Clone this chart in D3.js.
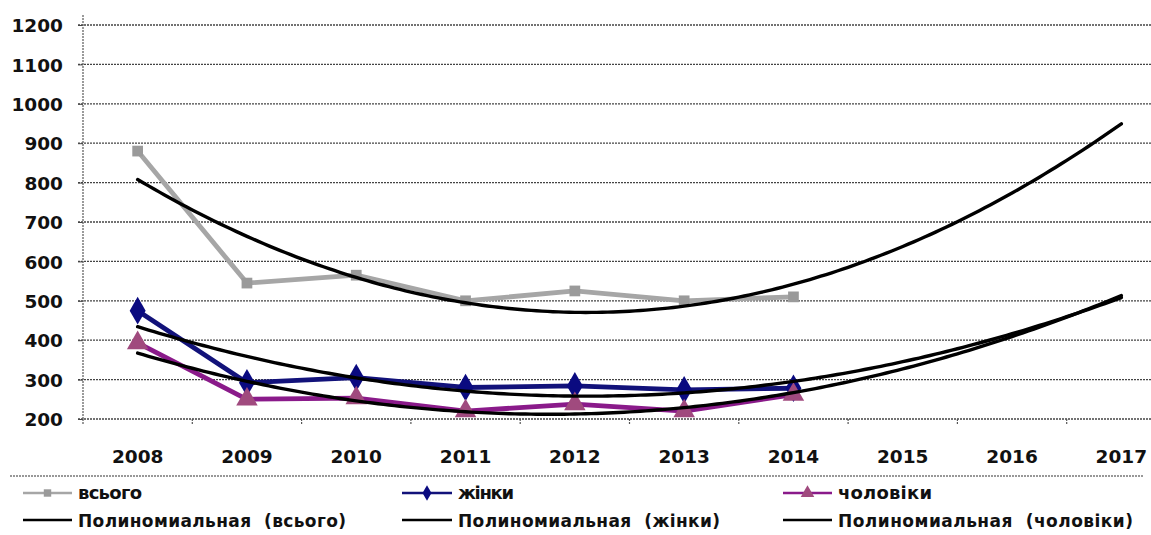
<!DOCTYPE html>
<html><head><meta charset="utf-8">
<script src="https://cdn.jsdelivr.net/npm/d3@7"></script>
<style>
html,body{margin:0;padding:0;background:#fff;}
svg{display:block;}
text{font-family:"DejaVu Sans",Arial,sans-serif;fill:#111;}
</style></head>
<body>
<svg id="c" width="1151" height="535"></svg>
<script>
const years = ["2008","2009","2010","2011","2012","2013","2014","2015","2016","2017"];
const dataYears = ["2008","2009","2010","2011","2012","2013","2014"];
const vsogo   = [880, 545, 565, 500, 525, 500, 510];
const zhinky  = [475, 292, 305, 280, 284, 274, 278];
const choloviky = [393, 250, 253, 220, 238, 220, 262];
const yTicks = [200,300,400,500,600,700,800,900,1000,1100,1200];
const seriesNames = ["всього","жінки","чоловіки"];
const trendNames = ["Полиномиальная  (всього)","Полиномиальная  (жінки)","Полиномиальная  (чоловіки)"];

const svg = d3.select("#c");
const x = d3.scaleBand().domain(years).range([83, 1176]).padding(0);
const bw = x.bandwidth();
const cx = d => x(d) + bw/2;
const y = d3.scaleLinear().domain([200,1200]).range([419,25]);

// gridlines
svg.append("g").selectAll("line").data(yTicks).join("line")
  .attr("x1",78).attr("x2",1151).attr("y1",d=>y(d)).attr("y2",d=>y(d))
  .attr("stroke","#444").attr("stroke-width",1.3).attr("stroke-dasharray","2 1");

// y axis
const yAxis = d3.axisLeft(y).tickValues(yTicks).tickFormat(d3.format("d")).tickSize(5).tickPadding(15);
const gy = svg.append("g").attr("transform","translate(83,0)").call(yAxis);
gy.select(".domain").remove();
gy.append("line").attr("x1",0).attr("x2",0).attr("y1",15).attr("y2",419)
  .attr("stroke","#666").attr("stroke-width",1.3).attr("stroke-dasharray","2 1");
gy.selectAll(".tick line").attr("stroke","#444");
gy.selectAll("text").attr("font-size","18.5px").attr("font-weight","bold")
  .attr("font-family","DejaVu Sans").attr("fill","#111").attr("dy","0.36em");

// x axis
const xAxis = d3.axisBottom(x).tickSize(0).tickPadding(0);
const gx = svg.append("g").attr("transform","translate(0,419)").call(xAxis);
gx.select(".domain").remove();
gx.selectAll("text").attr("font-size","18.5px").attr("font-weight","bold")
  .attr("font-family","DejaVu Sans").attr("fill","#111").attr("y",44).attr("dy",0);
svg.append("g").selectAll("line").data(years).join("line")
  .attr("x1",d=>x(d)).attr("x2",d=>x(d)).attr("y1",419).attr("y2",425)
  .attr("stroke","#555").attr("stroke-width",1.2).attr("stroke-dasharray","2 1");

// series
const line = d3.line().x((d,i)=>cx(dataYears[i])).y(d=>y(d));
const series = [
  {vals:vsogo, color:"#a6a6a6", mcolor:"#9a9a9a", marker:"square"},
  {vals:zhinky, color:"#12127a", mcolor:"#0a0a80", marker:"diamond"},
  {vals:choloviky, color:"#8a1a8a", mcolor:"#a04a7e", marker:"triangle"}
];
const symType = {square:d3.symbolSquare, diamond:d3.symbolDiamond, triangle:d3.symbolTriangle};
const symSize = {square:115, diamond:220, triangle:200};

series.forEach(s=>{
  svg.append("path").datum(s.vals).attr("d",line).attr("fill","none")
    .attr("stroke",s.color).attr("stroke-width",4.8).attr("stroke-linejoin","round");
});
series.forEach(s=>{
  svg.append("g").selectAll("path").data(s.vals).join("path")
    .attr("transform",(d,i)=>`translate(${cx(dataYears[i])},${y(d)})`)
    .attr("d",d3.symbol().type(symType[s.marker]).size(symSize[s.marker]))
    .attr("fill",s.mcolor);
});

// quadratic least-squares trend (the chart's polynomial trendlines), forecast to 2017
function quadFit(vals){
  const xs=vals.map((v,i)=>i);
  let S=[0,0,0,0,0], T=[0,0,0];
  xs.forEach((xv,i)=>{for(let k=0;k<5;k++)S[k]+=Math.pow(xv,k);for(let k=0;k<3;k++)T[k]+=Math.pow(xv,k)*vals[i];});
  const A=[[S[0],S[1],S[2]],[S[1],S[2],S[3]],[S[2],S[3],S[4]]];
  const b=T.slice();
  for(let i=0;i<3;i++){for(let j=i+1;j<3;j++){const f=A[j][i]/A[i][i];for(let k=i;k<3;k++)A[j][k]-=f*A[i][k];b[j]-=f*b[i];}}
  const c=[0,0,0];
  for(let i=2;i>=0;i--){let s=b[i];for(let k=i+1;k<3;k++)s-=A[i][k]*c[k];c[i]=s/A[i][i];}
  return t=>c[0]+c[1]*t+c[2]*t*t;
}
const tScale = d3.scaleLinear().domain([0, years.length-1]).range([cx(years[0]), cx(years[years.length-1])]);
series.forEach(s=>{
  const f = quadFit(s.vals);
  const pts = d3.range(0, 9.0001, 0.05).map(t=>[tScale(t), y(f(t))]);
  svg.append("path").datum(pts).attr("d",d3.line())
    .attr("fill","none").attr("stroke","#000").attr("stroke-width",3.4).attr("stroke-linecap","round");
});

// legend
svg.append("line").attr("x1",10).attr("x2",1143).attr("y1",476).attr("y2",476)
  .attr("stroke","#777").attr("stroke-width",1.3).attr("stroke-dasharray","2 1");
const legX = [[23,72,78],[402,452,458],[783,832,838]];
const legW1 = [64, 56, 94];
const legW2 = [268, 262, 295];
series.forEach((s,i)=>{
  const [x1,x2,tx]=legX[i];
  svg.append("line").attr("x1",x1).attr("x2",x2).attr("y1",493).attr("y2",493)
    .attr("stroke",s.color).attr("stroke-width",2.5);
  svg.append("path").attr("transform",`translate(${(x1+x2)/2},493)`)
    .attr("d",d3.symbol().type(symType[s.marker]).size(s.marker==="square"?55:(s.marker==="diamond"?70:80)))
    .attr("fill",s.mcolor);
  svg.append("text").attr("x",tx).attr("y",499).attr("font-size","18px").attr("font-weight","bold")
    .attr("textLength",legW1[i]).attr("lengthAdjust","spacing").text(seriesNames[i]);
  svg.append("line").attr("x1",x1).attr("x2",x2).attr("y1",520).attr("y2",520)
    .attr("stroke","#000").attr("stroke-width",2.5);
  svg.append("text").attr("x",tx).attr("y",527).attr("font-size","17px").attr("font-weight","bold")
    .style("white-space","pre")
    .attr("textLength",legW2[i]).attr("lengthAdjust","spacing").text(trendNames[i]);
});
</script>
</body></html>
